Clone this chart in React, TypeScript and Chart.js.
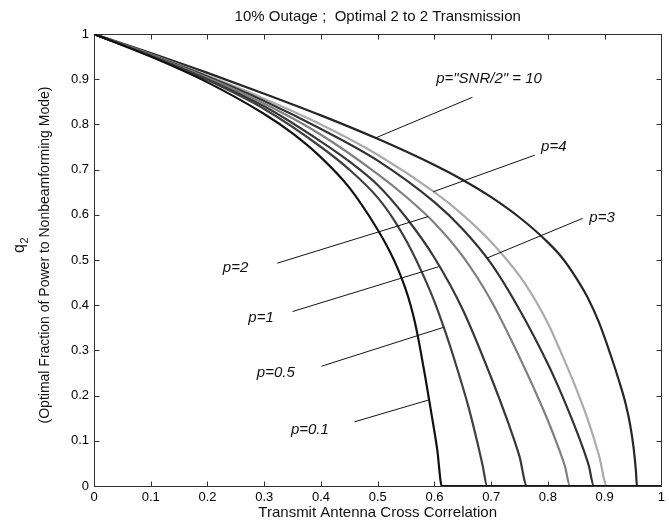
import React, { useEffect, useRef } from "react";
import { Chart, registerables } from "chart.js";
Chart.register(...registerables);

// ---------- data ----------
const seriesNames = ["p=0.1", "p=0.5", "p=1", "p=2", "p=3", "p=4", "p=10"];

const xP01 = [0, 0.1, 0.2, 0.3, 0.35, 0.4, 0.45, 0.5, 0.52, 0.535, 0.548, 0.558, 0.566, 0.574, 0.584, 0.595, 0.605, 0.613, 1];
const yP01 = [1, 0.95, 0.893, 0.823, 0.78, 0.727, 0.66, 0.567, 0.522, 0.482, 0.44, 0.4, 0.36, 0.31, 0.24, 0.158, 0.08, 0, 0];

const xP05 = [0, 0.1, 0.2, 0.3, 0.4, 0.45, 0.5, 0.53, 0.56, 0.58, 0.6, 0.62, 0.64, 0.66, 0.675, 0.685, 0.693, 1];
const yP05 = [1, 0.951, 0.898, 0.834, 0.75, 0.7, 0.638, 0.586, 0.52, 0.467, 0.408, 0.338, 0.26, 0.175, 0.1, 0.045, 0, 0];

const xP1 = [0, 0.1, 0.2, 0.3, 0.4, 0.45, 0.5, 0.55, 0.6, 0.65, 0.7, 0.73, 0.75, 0.763, 1];
const yP1 = [1, 0.952, 0.9, 0.84, 0.762, 0.718, 0.666, 0.594, 0.505, 0.39, 0.24, 0.14, 0.065, 0, 0];

const xP2 = [0, 0.1, 0.2, 0.3, 0.4, 0.5, 0.55, 0.6, 0.65, 0.7, 0.75, 0.775, 0.8, 0.82, 0.83, 0.839, 1];
const yP2 = [1, 0.953, 0.903, 0.846, 0.777, 0.69, 0.64, 0.582, 0.508, 0.41, 0.285, 0.217, 0.145, 0.08, 0.044, 0, 0];

const xP3 = [0, 0.1, 0.2, 0.3, 0.4, 0.5, 0.6, 0.65, 0.7, 0.75, 0.8, 0.82, 0.84, 0.86, 0.872, 0.881, 1];
const yP3 = [1, 0.954, 0.906, 0.852, 0.79, 0.72, 0.628, 0.568, 0.492, 0.39, 0.27, 0.215, 0.155, 0.09, 0.045, 0, 0];

const xP4 = [0, 0.1, 0.2, 0.3, 0.4, 0.5, 0.6, 0.65, 0.7, 0.75, 0.775, 0.8, 0.825, 0.85, 0.87, 0.89, 0.904, 1];
const yP4 = [1, 0.955, 0.908, 0.857, 0.8, 0.733, 0.65, 0.6, 0.54, 0.465, 0.417, 0.36, 0.29, 0.215, 0.148, 0.068, 0, 0];

const xP10 = [0, 0.1, 0.2, 0.3, 0.4, 0.5, 0.6, 0.65, 0.7, 0.75, 0.8, 0.825, 0.85, 0.87, 0.89, 0.91, 0.925, 0.937, 0.945, 0.951, 0.955, 0.957, 1];
const yP10 = [1, 0.958, 0.914, 0.868, 0.82, 0.768, 0.71, 0.677, 0.639, 0.594, 0.539, 0.505, 0.46, 0.417, 0.362, 0.292, 0.234, 0.182, 0.135, 0.085, 0.035, 0, 0];

const seriesX = [xP01, xP05, xP1, xP2, xP3, xP4, xP10];
const seriesY = [yP01, yP05, yP1, yP2, yP3, yP4, yP10];
const seriesColors = ["#111111", "#404040", "#383838", "#808080", "#333333", "#ababab", "#262626"];

const xTickValues = [0, 0.1, 0.2, 0.3, 0.4, 0.5, 0.6, 0.7, 0.8, 0.9, 1];
const xTickLabels = ["0", "0.1", "0.2", "0.3", "0.4", "0.5", "0.6", "0.7", "0.8", "0.9", "1"];
const yTickValues = [0, 0.1, 0.2, 0.3, 0.4, 0.5, 0.6, 0.7, 0.8, 0.9, 1];
const yTickLabels = ["0", "0.1", "0.2", "0.3", "0.4", "0.5", "0.6", "0.7", "0.8", "0.9", "1"];

const titleText = "10% Outage ;  Optimal 2 to 2 Transmission";
const xAxisTitle = "Transmit Antenna Cross Correlation";
const yAxisMain = "q";
const yAxisSub = "2";
const yAxisNote = "(Optimal Fraction of Power to Nonbeamforming Mode)";

// annotation labels (data coordinates)
const noteTexts = ['p="SNR/2" = 10', "p=4", "p=3", "p=2", "p=1", "p=0.5", "p=0.1"];
const noteTextX = [0.603, 0.788, 0.873, 0.227, 0.272, 0.287, 0.347];
const noteTextY = [0.9, 0.75, 0.594, 0.483, 0.373, 0.25, 0.124];
const noteFromX = [0.667, 0.777, 0.861, 0.323, 0.35, 0.401, 0.459];
const noteFromY = [0.86, 0.732, 0.592, 0.493, 0.386, 0.265, 0.142];
const noteToX = [0.496, 0.598, 0.692, 0.589, 0.607, 0.616, 0.589];
const noteToY = [0.77, 0.651, 0.504, 0.596, 0.485, 0.351, 0.19];

const FONT = '"Liberation Sans", Arial, Helvetica, sans-serif';

const decorPlugin = {
  id: "decor",
  beforeDatasetsDraw(chart: any) {
    const { ctx, chartArea } = chart;
    const xs = chart.scales.x;
    const ys = chart.scales.y;
    const L = Math.round(chartArea.left) + 0.5;
    const R = Math.round(chartArea.right) + 0.5;
    const T = Math.round(chartArea.top) + 0.5;
    const B = Math.round(chartArea.bottom) + 0.5;
    ctx.save();
    ctx.strokeStyle = "#333";
    ctx.lineWidth = 1;
    ctx.strokeRect(L, T, R - L, B - T);
    const tl = 5;
    ctx.beginPath();
    xTickValues.forEach((v) => {
      const px = Math.round(xs.getPixelForValue(v)) + 0.5;
      ctx.moveTo(px, B);
      ctx.lineTo(px, B - tl);
      ctx.moveTo(px, T);
      ctx.lineTo(px, T + tl);
    });
    yTickValues.forEach((v) => {
      const py = Math.round(ys.getPixelForValue(v)) + 0.5;
      ctx.moveTo(L, py);
      ctx.lineTo(L + tl, py);
      ctx.moveTo(R, py);
      ctx.lineTo(R - tl, py);
    });
    ctx.stroke();
    ctx.restore();
  },
  afterDraw(chart: any) {
    const { ctx, chartArea } = chart;
    const xs = chart.scales.x;
    const ys = chart.scales.y;
    ctx.save();
    ctx.strokeStyle = "#111";
    ctx.lineWidth = 1;
    ctx.beginPath();
    noteTexts.forEach((_, i) => {
      ctx.moveTo(xs.getPixelForValue(noteFromX[i]), ys.getPixelForValue(noteFromY[i]));
      ctx.lineTo(xs.getPixelForValue(noteToX[i]), ys.getPixelForValue(noteToY[i]));
    });
    ctx.stroke();
    ctx.fillStyle = "#111";
    ctx.font = `italic 15px ${FONT}`;
    ctx.textAlign = "left";
    ctx.textBaseline = "middle";
    noteTexts.forEach((t, i) => {
      ctx.fillText(t, xs.getPixelForValue(noteTextX[i]), ys.getPixelForValue(noteTextY[i]));
    });
    const cx = (chartArea.left + chartArea.right) / 2;
    ctx.font = `15px ${FONT}`;
    ctx.textAlign = "center";
    ctx.fillText(titleText, cx, 17);
    ctx.fillText(xAxisTitle, cx, 513);
    ctx.save();
    ctx.translate(45, 255);
    ctx.rotate(-Math.PI / 2);
    ctx.font = `14px ${FONT}`;
    ctx.textAlign = "center";
    ctx.textBaseline = "middle";
    ctx.fillText(yAxisNote, 0, 0);
    ctx.restore();
    ctx.save();
    ctx.translate(24, 244);
    ctx.rotate(-Math.PI / 2);
    ctx.textBaseline = "alphabetic";
    ctx.font = `16px ${FONT}`;
    ctx.textAlign = "right";
    ctx.fillText(yAxisMain, 0, 0);
    ctx.font = `11px ${FONT}`;
    ctx.textAlign = "left";
    ctx.fillText(yAxisSub, 0.5, 4);
    ctx.restore();
    ctx.restore();
  },
};

export default function App() {
  const ref = useRef<HTMLCanvasElement>(null);
  useEffect(() => {
    const canvas = ref.current;
    if (!canvas) return;
    const datasets = seriesNames.map((name, i) => ({
      label: name,
      data: seriesX[i].map((x, j) => ({ x, y: seriesY[i][j] })),
      borderColor: seriesColors[i],
      backgroundColor: seriesColors[i],
      borderWidth: 2.2,
      pointRadius: 0,
      fill: false,
      cubicInterpolationMode: "monotone" as const,
    }));
    const chart = new Chart(canvas, {
      type: "line",
      data: { datasets },
      plugins: [decorPlugin],
      options: {
        animation: false,
        responsive: false,
        devicePixelRatio: 1,
        layout: { padding: { top: 34, right: 5, left: 0, bottom: 0 } },
        plugins: { legend: { display: false }, title: { display: false }, tooltip: { enabled: false } },
        scales: {
          x: {
            type: "linear",
            min: 0,
            max: 1,
            afterBuildTicks: (s: any) => {
              s.ticks = xTickValues.map((v) => ({ value: v }));
            },
            afterFit: (s: any) => {
              s.height = 37;
            },
            grid: { display: false, drawTicks: false },
            border: { display: false },
            ticks: {
              autoSkip: false,
              maxRotation: 0,
              padding: 4,
              color: "#000",
              font: { family: FONT, size: 13 },
              callback: (_v: any, idx: number) => xTickLabels[idx],
            },
          },
          y: {
            type: "linear",
            min: 0,
            max: 1,
            afterBuildTicks: (s: any) => {
              s.ticks = yTickValues.map((v) => ({ value: v }));
            },
            afterFit: (s: any) => {
              s.width = 94;
            },
            grid: { display: false, drawTicks: false },
            border: { display: false },
            ticks: {
              autoSkip: false,
              padding: 5,
              color: "#000",
              font: { family: FONT, size: 13 },
              callback: (_v: any, idx: number) => yTickLabels[idx],
            },
          },
        },
      },
    });
    return () => chart.destroy();
  }, []);
  return (
    <div style={{ position: "fixed", left: 0, top: 0, width: 669, height: 523, background: "#fff" }}>
      <canvas ref={ref} width={669} height={523} style={{ display: "block", width: 669, height: 523 }} />
    </div>
  );
}
